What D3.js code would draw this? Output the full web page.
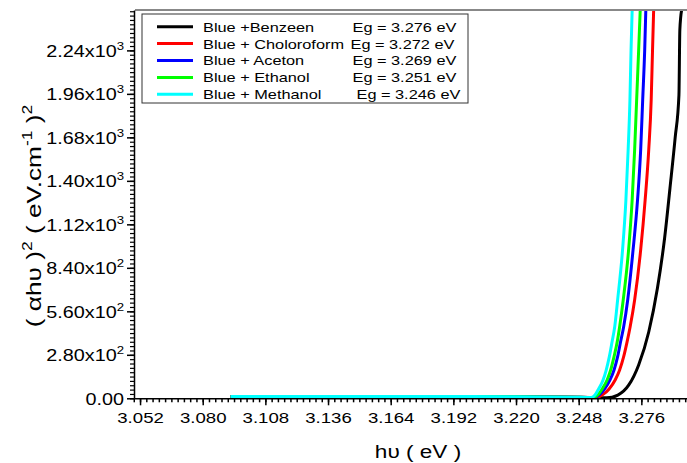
<!DOCTYPE html>
<html>
<head>
<meta charset="utf-8">
<script src="https://cdn.jsdelivr.net/npm/d3@7"></script>
<style>
  body { margin: 0; background: #fff; }
  svg { display: block; font-family: "Liberation Sans", Arial, sans-serif; }
</style>
</head>
<body>
<svg id="chart" width="687" height="463"></svg>
<script>
// tick values
const xTicks = [3.052, 3.080, 3.108, 3.136, 3.164, 3.192, 3.220, 3.248, 3.276];
const yTicks = [0, 280, 560, 840, 1120, 1400, 1680, 1960, 2240];

// flat part shared by all curves
const baseX = [3.0925, 3.12, 3.16, 3.20, 3.23, 3.245];
const baseY = [12, 12, 12, 11, 9, 7];

// rising edge
const riseY = [5, 21, 60, 118, 182, 268, 362, 461, 633, 955, 1277, 1599, 1921, 2243, 2500];
const methanolX = [3.2536, 3.2553, 3.2569, 3.2589, 3.2603, 3.2617, 3.2629, 3.2641, 3.2654, 3.2676, 3.2691, 3.2701, 3.2709, 3.2714, 3.2719];
const ethanolX  = [3.2544, 3.2565, 3.2585, 3.2607, 3.2623, 3.2638, 3.2652, 3.2663, 3.2679, 3.2703, 3.2719, 3.2730, 3.2739, 3.2748, 3.2755];
const acetonX   = [3.2549, 3.2571, 3.2596, 3.2620, 3.2638, 3.2654, 3.2667, 3.2681, 3.2699, 3.2723, 3.2743, 3.2757, 3.2766, 3.2775, 3.2780];
const chloroX   = [3.2558, 3.2585, 3.2616, 3.2643, 3.2663, 3.2681, 3.2696, 3.2710, 3.2730, 3.2757, 3.2777, 3.2793, 3.2804, 3.2810, 3.2815];
const benzeenX  = [3.2605, 3.2655, 3.2704, 3.2748, 3.2793, 3.2832, 3.2864, 3.2888, 3.2911, 3.2928, 3.2932, 3.2940];
const benzeenY  = [3, 21, 86, 215, 427, 710, 1032, 1354, 1676, 1953, 2371, 2500];

const labels = ["Blue +Benzeen", "Blue + Choloroform", "Blue + Aceton", "Blue + Ethanol", "Blue + Methanol"];
const gaps   = ["Eg = 3.276 eV", "Eg = 3.272 eV", "Eg = 3.269 eV", "Eg = 3.251 eV", "Eg = 3.246 eV"];
const colors = ["#000000", "#ff0000", "#0000ff", "#00ff00", "#00ffff"];

const risesX = [benzeenX, chloroX, acetonX, ethanolX, methanolX];
const risesY = [benzeenY, riseY, riseY, riseY, riseY];

const series = labels.map((label, i) => ({
  label,
  gap: gaps[i],
  color: colors[i],
  points: baseX.map((x, j) => [x, baseY[j]])
    .concat(risesX[i].map((x, j) => [x, risesY[i][j]]))
}));

const svg = d3.select("#chart");
const plotL = 134, plotR = 687, plotT = 10, plotB = 398.3;
const FONT = "Liberation Sans, Arial, sans-serif";
const STRETCH = 1.2; // the original text is a bit wide

const x = d3.scaleLinear().domain([3.0493, 3.2964]).range([plotL, plotR]);
const y = d3.scaleLinear().domain([0, 2500]).range([plotB, plotT]);

svg.append("clipPath").attr("id", "clip")
  .append("rect").attr("x", plotL).attr("y", plotT)
  .attr("width", plotR - plotL).attr("height", plotB - plotT);

// curves
const line = d3.line().x(d => x(d[0])).y(d => y(d[1])).curve(d3.curveMonotoneX);
svg.append("g").attr("clip-path", "url(#clip)")
  .selectAll("path")
  .data(series)
  .enter()
  .append("path")
  .attr("d", d => line(d.points))
  .attr("fill", "none")
  .attr("stroke", d => d.color)
  .attr("stroke-width", 3);

// top frame line
svg.append("line")
  .attr("x1", plotL + 1).attr("x2", plotR).attr("y1", plotT).attr("y2", plotT)
  .attr("stroke", "#888").attr("stroke-width", 2);

// x axis: minor then major
const xMinor = d3.range(3.052 - 0.0028, 3.2964, 0.0028);
svg.append("g").attr("transform", `translate(0,${plotB})`)
  .call(d3.axisBottom(x).tickValues(xMinor).tickSize(4).tickFormat("").tickSizeOuter(0))
  .call(g => g.select(".domain").remove())
  .call(g => g.selectAll("line").attr("stroke-width", 1.5));
svg.append("g").attr("transform", `translate(0,${plotB})`)
  .call(d3.axisBottom(x).tickValues(xTicks).tickSize(7).tickFormat(d3.format(".3f")).tickSizeOuter(0))
  .call(g => g.select(".domain").attr("stroke-width", 1.5))
  .call(g => g.selectAll("line").attr("stroke-width", 1.5))
  .call(g => g.selectAll("text")
    .attr("font-size", 15.5).attr("fill", "#000").attr("font-family", FONT)
    .attr("y", 0).attr("dy", null)
    .attr("transform", `translate(0,25) scale(${STRETCH},1)`));

// y axis: minor then major
const yMinor = d3.range(0, 2500, 28);
svg.append("g").attr("transform", `translate(${plotL},0)`)
  .call(d3.axisLeft(y).tickValues(yMinor).tickSize(4).tickFormat("").tickSizeOuter(0))
  .call(g => g.select(".domain").remove())
  .call(g => g.selectAll("line").attr("stroke-width", 1.2));
const yAxis = svg.append("g").attr("transform", `translate(${plotL},0)`)
  .call(d3.axisLeft(y).tickValues(yTicks).tickSize(7).tickSizeOuter(0))
  .call(g => g.select(".domain").attr("stroke-width", 1.5))
  .call(g => g.selectAll("line").attr("stroke-width", 1.5));

yAxis.selectAll(".tick text")
  .attr("font-size", 16.5).attr("fill", "#000").attr("font-family", FONT)
  .attr("x", 0).attr("dy", "0.36em")
  .attr("transform", `translate(-10,0) scale(${STRETCH},1)`)
  .each(function (d) {
    const t = d3.select(this).text("");
    if (d === 0) { t.text("0.00"); return; }
    const exp = d >= 1000 ? 3 : 2;
    t.append("tspan").text((d / Math.pow(10, exp)).toFixed(2) + "x10");
    t.append("tspan").text(exp).attr("font-size", 11).attr("dy", -7);
  });

// axis titles
svg.append("text")
  .attr("transform", `translate(418,458) scale(1.22,1)`)
  .attr("text-anchor", "middle").attr("font-size", 18.5).attr("font-family", FONT)
  .text("h\u03c5 ( eV )");

const yt = svg.append("text")
  .attr("transform", "translate(41,216) rotate(-90) scale(1.25,1)")
  .attr("text-anchor", "middle").attr("font-size", 21).attr("font-family", FONT);
yt.append("tspan").text("( \u03b1h\u03c5 )");
yt.append("tspan").text("2").attr("font-size", 14).attr("dy", -9);
yt.append("tspan").text(" ( eV.cm").attr("dy", 9);
yt.append("tspan").text("-1").attr("font-size", 14).attr("dy", -9);
yt.append("tspan").text(" )").attr("dy", 9);
yt.append("tspan").text("2").attr("font-size", 14).attr("dy", -9);

// legend
const legend = svg.append("g");
legend.append("rect")
  .attr("x", 142).attr("y", 14).attr("width", 326).attr("height", 89)
  .attr("fill", "#fff").attr("stroke", "#333").attr("stroke-width", 1);

const egShift = [0, -2, 0, 0, 4];
const items = legend.selectAll("g.item")
  .data(series)
  .enter()
  .append("g")
  .attr("transform", (_, i) => `translate(0,${26.7 + i * 16.9})`);
items.append("line")
  .attr("x1", 157).attr("x2", 193)
  .attr("stroke", d => d.color).attr("stroke-width", 3);
items.append("text")
  .attr("transform", `translate(203,0) scale(${STRETCH},1)`)
  .attr("dy", "0.36em").attr("font-size", 13.6).attr("font-family", FONT)
  .text(d => d.label);
items.append("text")
  .attr("transform", (_, i) => `translate(${352.5 + egShift[i]},0) scale(${STRETCH},1)`)
  .attr("dy", "0.36em").attr("font-size", 13.6).attr("font-family", FONT)
  .text(d => d.gap);
</script>
</body>
</html>
